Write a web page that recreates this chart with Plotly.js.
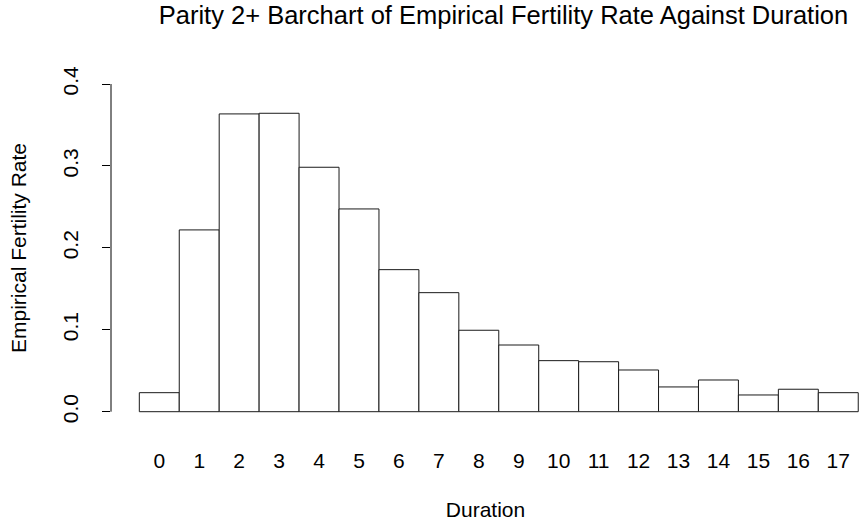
<!DOCTYPE html>
<html>
<head>
<meta charset="utf-8">
<script src="https://cdn.plot.ly/plotly-3.0.1.min.js"></script>
<style>html,body{margin:0;padding:0;background:#fff;}#chart{width:860px;height:527px;}</style>
</head>
<body>
<div id="chart"></div>
<script>
var durations = [0,1,2,3,4,5,6,7,8,9,10,11,12,13,14,15,16,17];
var durationLabels = ["0","1","2","3","4","5","6","7","8","9","10","11","12","13","14","15","16","17"];
var fertilityRate = [0.0232,0.2219,0.3635,0.3643,0.2984,0.2475,0.1734,0.1453,0.0994,0.0814,0.0623,0.0610,0.0509,0.0302,0.0387,0.0204,0.0274,0.0232];
var yTickVals = [0,0.1,0.2,0.3,0.4];
var yTickText = ["0.0","0.1","0.2","0.3","0.4"];

var font = "Liberation Sans, Arial, Helvetica, sans-serif";

var trace = {
  type: "bar",
  x: durations,
  y: fertilityRate,
  width: 1,
  marker: {color: "#ffffff", line: {color: "#1a1a1a", width: 1}},
  cliponaxis: false,
  hoverinfo: "x+y"
};

var layout = {
  width: 860, height: 527,
  margin: {l: 111, r: 0, t: 71, b: 102, pad: 0},
  paper_bgcolor: "#ffffff", plot_bgcolor: "#ffffff",
  font: {family: font, color: "#000000", size: 21},
  showlegend: false,
  title: {
    text: "Parity 2+ Barchart of Empirical Fertility Rate Against Duration",
    font: {family: font, size: 25.5, color: "#000000"},
    xref: "container", x: 503.5/860, xanchor: "center",
    yref: "container", y: 1 - 15/527, yanchor: "middle"
  },
  xaxis: {
    range: [-1.209, 17.544],
    tickvals: durations, ticktext: durationLabels,
    showline: false, showgrid: false, zeroline: false,
    ticks: "", ticklabelstandoff: 21,
    tickfont: {family: font, size: 21, color: "#000000"},
    title: {text: "Duration", font: {family: font, size: 21, color: "#000000"}, standoff: 31},
    automargin: false, fixedrange: true
  },
  yaxis: {
    range: [-0.01625, 0.4159],
    tickvals: yTickVals, ticktext: yTickText,
    showline: false, showgrid: false, zeroline: false,
    ticks: "outside", ticklen: 8, tickwidth: 1, tickcolor: "#000000",
    tickangle: -90, ticklabelstandoff: 16,
    tickfont: {family: font, size: 21, color: "#000000"},
    title: {text: "Empirical Fertility Rate", font: {family: font, size: 21, color: "#000000"}, standoff: 26},
    automargin: false, fixedrange: true
  },
  shapes: [{
    type: "line", xref: "paper", yref: "y",
    x0: 0, x1: 0, y0: yTickVals[0], y1: yTickVals[yTickVals.length-1],
    line: {color: "#000000", width: 1}
  }]
};

Plotly.newPlot("chart", [trace], layout, {displayModeBar: false, staticPlot: true});
</script>
</body>
</html>
